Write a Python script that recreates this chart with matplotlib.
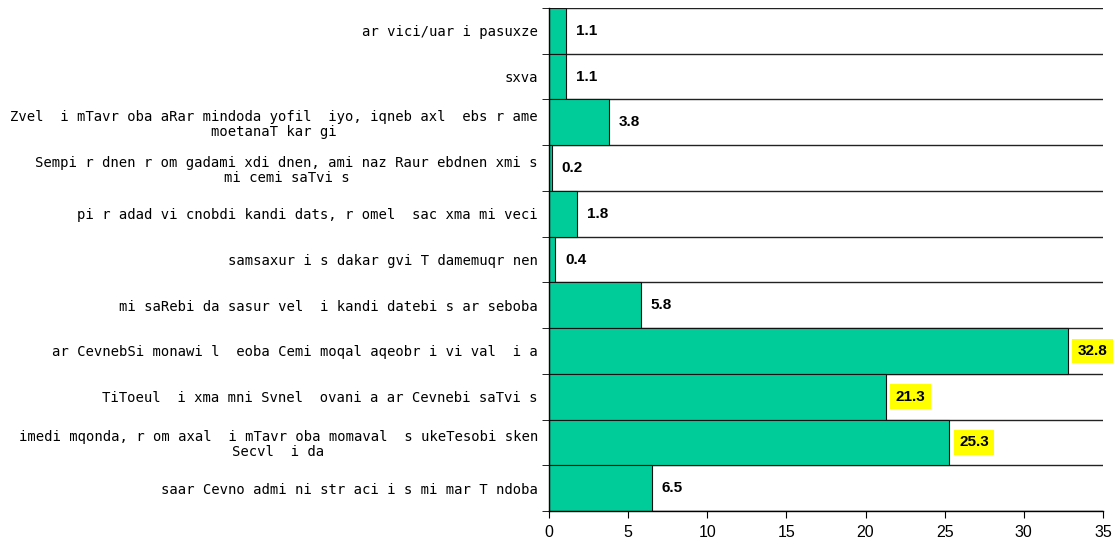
import matplotlib.pyplot as plt
import numpy as np

plt.rcParams["font.family"] = ["Liberation Sans", "DejaVu Sans"]

labels = [
    "ar vici/uar i pasuxze",
    "sxva",
    "Zvel  i mTavr oba aRar mindoda yofil  iyo, iqneb axl  ebs r ame\nmoetanaT kar gi",
    "Sempi r dnen r om gadami xdi dnen, ami naz Raur ebdnen xmi s\nmi cemi saTvi s",
    "pi r adad vi cnobdi kandi dats, r omel  sac xma mi veci",
    "samsaxur i s dakar gvi T damemuqr nen",
    "mi saRebi da sasur vel  i kandi datebi s ar seboba",
    "ar CevnebSi monawi l  eoba Cemi moqal aqeobr i vi val  i a",
    "TiToeul  i xma mni Svnel  ovani a ar Cevnebi saTvi s",
    "imedi mqonda, r om axal  i mTavr oba momaval  s ukeTesobi sken\nSecvl  i da",
    "saar Cevno admi ni str aci i s mi mar T ndoba",
]
values = [1.1, 1.1, 3.8, 0.2, 1.8, 0.4, 5.8, 32.8, 21.3, 25.3, 6.5]
highlight = [False, False, False, False, False, False, False, True, True, True, False]

fig = plt.figure(figsize=(11.16, 5.42), dpi=100)
ax = fig.add_axes([0.4919, 0.0572, 0.4964, 0.928])

y = np.arange(len(labels))
ax.barh(y, values, height=1.0, color="#00CC99", edgecolor="#111111", linewidth=0.8, zorder=2)

ax.set_ylim(len(labels) - 0.5, -0.5)
ax.set_xlim(0, 35)
ax.set_xticks(range(0, 36, 5))
ax.set_yticks(y)
ax.set_yticklabels(labels, fontsize=10, family="DejaVu Sans Mono", multialignment="center",
                   linespacing=1.1)
ax.tick_params(axis="y", which="major", length=0, pad=8)
ax.set_yticks(np.arange(len(labels) + 1) - 0.5, minor=True)
ax.tick_params(axis="y", which="minor", length=5, direction="out")
ax.tick_params(axis="x", length=5, direction="out", labelsize=11.5, pad=5)
ax.grid(axis="y", which="minor", color="#222222", linewidth=1, zorder=1)

for s in ["top", "right"]:
    ax.spines[s].set_visible(False)
ax.spines["left"].set_linewidth(1)
ax.spines["bottom"].set_linewidth(1)

for yi, v, h in zip(y, values, highlight):
    box = dict(boxstyle="square,pad=0.35", facecolor="yellow", edgecolor="none") if h else None
    ax.annotate(f"{v:.1f}", (v, yi), xytext=(7, 0), textcoords="offset points",
                ha="left", va="center", fontsize=11, fontweight="bold", bbox=box, zorder=3)

plt.savefig("out.png")
